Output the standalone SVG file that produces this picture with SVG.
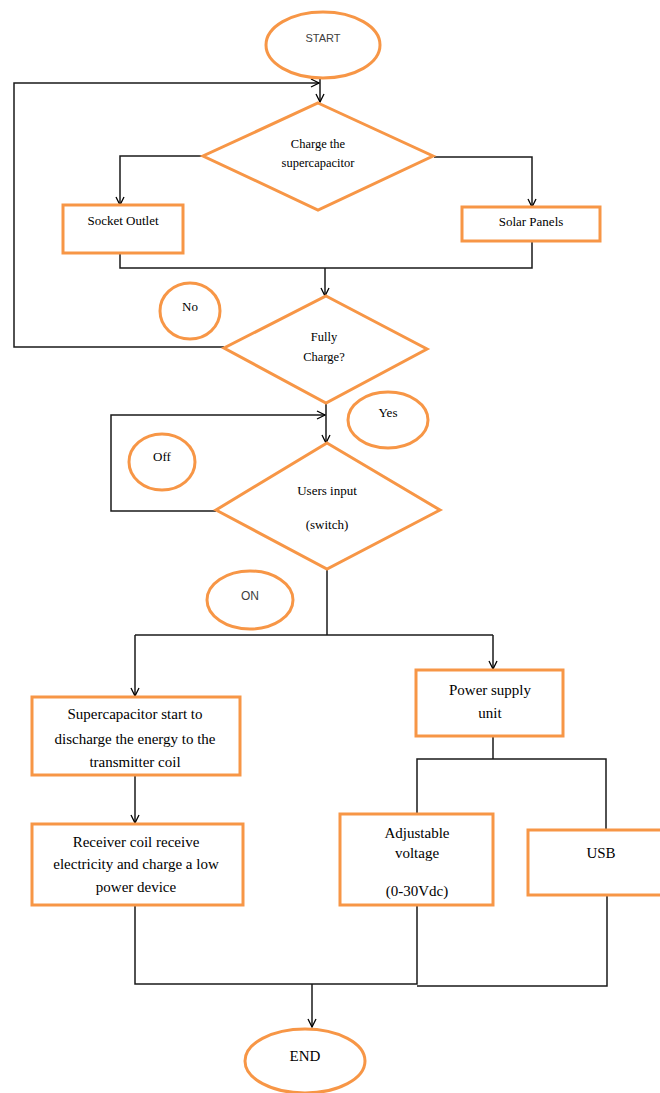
<svg xmlns="http://www.w3.org/2000/svg" width="660" height="1093" viewBox="0 0 660 1093">
<defs>
<marker id="arr" viewBox="0 0 10 10" refX="9" refY="5" markerWidth="10" markerHeight="10" markerUnits="userSpaceOnUse" orient="auto">
<polyline points="1,1 9,5 1,9" fill="none" stroke="#000" stroke-width="1.3"/>
</marker>
<style>
.sh{fill:#fff;stroke:#F79646;stroke-width:3}
.ln{fill:none;stroke:#1a1a1a;stroke-width:1.5}
.t{font-family:"Liberation Serif","Times New Roman",serif;fill:#000;text-anchor:middle}
.s{font-family:"Liberation Sans",Arial,sans-serif;fill:#404040;text-anchor:middle}
</style>
</defs>
<rect width="660" height="1093" fill="#fff"/>
<g id="connectors">
<path class="ln" d="M320 78 V102" marker-end="url(#arr)"/>
<path class="ln" d="M224 347 H14 V83 H319" marker-end="url(#arr)"/>
<path class="ln" d="M203 156 H120 V205" marker-end="url(#arr)"/>
<path class="ln" d="M434 157 H532 V207" marker-end="url(#arr)"/>
<path class="ln" d="M120 253 V268 H532 V241"/>
<path class="ln" d="M325 268 V296" marker-end="url(#arr)"/>
<path class="ln" d="M326 403 V443" marker-end="url(#arr)"/>
<path class="ln" d="M216 511 H111 V415 H325" marker-end="url(#arr)"/>
<path class="ln" d="M327 569 V635"/>
<path class="ln" d="M135 635 H493"/>
<path class="ln" d="M135 635 V696" marker-end="url(#arr)"/>
<path class="ln" d="M493 635 V669" marker-end="url(#arr)"/>
<path class="ln" d="M493 736 V759"/>
<path class="ln" d="M417 814 V759 H606 V831"/>
<path class="ln" d="M135 775 V823" marker-end="url(#arr)"/>
<path class="ln" d="M135 905 V984 H417 V905"/>
<path class="ln" d="M417 986 H607 V895"/>
<path class="ln" d="M312 984 V1027" marker-end="url(#arr)"/>
</g>
<g id="start"><ellipse class="sh" cx="323" cy="45" rx="57" ry="33"/><text class="s" x="323" y="42" font-size="11">START</text></g>
<g id="charge"><polygon class="sh" points="318,103 433,156 318,210 203,156"/><text class="t" x="318" y="148" font-size="12.5">Charge the</text><text class="t" x="318" y="167" font-size="12.5">supercapacitor</text></g>
<g id="socket"><rect class="sh" x="63" y="205" width="120" height="48"/><text class="t" x="123" y="225" font-size="13">Socket Outlet</text></g>
<g id="solar"><rect class="sh" x="462" y="207" width="138" height="34"/><text class="t" x="531" y="226" font-size="13">Solar Panels</text></g>
<g id="no"><ellipse class="sh" cx="190" cy="311" rx="30" ry="28"/><text class="t" x="190" y="311" font-size="13">No</text></g>
<g id="fully"><polygon class="sh" points="326,296 427,349 326,403 224,348"/><text class="t" x="324" y="341" font-size="12.5">Fully</text><text class="t" x="324" y="361" font-size="12.5">Charge?</text></g>
<g id="yes"><ellipse class="sh" cx="388" cy="420" rx="40" ry="28"/><text class="t" x="388" y="417" font-size="13">Yes</text></g>
<g id="off"><ellipse class="sh" cx="162" cy="462" rx="33" ry="28"/><text class="t" x="162" y="461" font-size="13">Off</text></g>
<g id="users"><polygon class="sh" points="327,443 440,510 327,569 216,510"/><text class="t" x="327" y="495" font-size="13">Users input</text><text class="t" x="327" y="529" font-size="13">(switch)</text></g>
<g id="on"><ellipse class="sh" cx="250" cy="600" rx="43" ry="29"/><text class="s" x="250" y="600" font-size="12">ON</text></g>
<g id="supercap"><rect class="sh" x="32" y="697" width="208" height="78"/><text class="t" x="135" y="719" font-size="15">Supercapacitor start to</text><text class="t" x="135" y="744" font-size="15">discharge the energy to the</text><text class="t" x="135" y="767" font-size="15">transmitter coil</text></g>
<g id="psu"><rect class="sh" x="416" y="670" width="147" height="66"/><text class="t" x="490" y="695" font-size="15">Power supply</text><text class="t" x="490" y="718" font-size="15">unit</text></g>
<g id="receiver"><rect class="sh" x="32" y="824" width="211" height="81"/><text class="t" x="136" y="847" font-size="15">Receiver coil receive</text><text class="t" x="136" y="869" font-size="15">electricity and charge a low</text><text class="t" x="136" y="892" font-size="15">power device</text></g>
<g id="adjustable"><rect class="sh" x="340" y="814" width="153" height="91"/><text class="t" x="417" y="838" font-size="15">Adjustable</text><text class="t" x="417" y="858" font-size="15">voltage</text><text class="t" x="417" y="896" font-size="15">(0-30Vdc)</text></g>
<g id="usb"><rect class="sh" x="528" y="830" width="140" height="65"/><text class="t" x="601" y="858" font-size="15">USB</text></g>
<g id="end"><ellipse class="sh" cx="305" cy="1061" rx="60" ry="32"/><text class="t" x="305" y="1061" font-size="15">END</text></g>
</svg>
